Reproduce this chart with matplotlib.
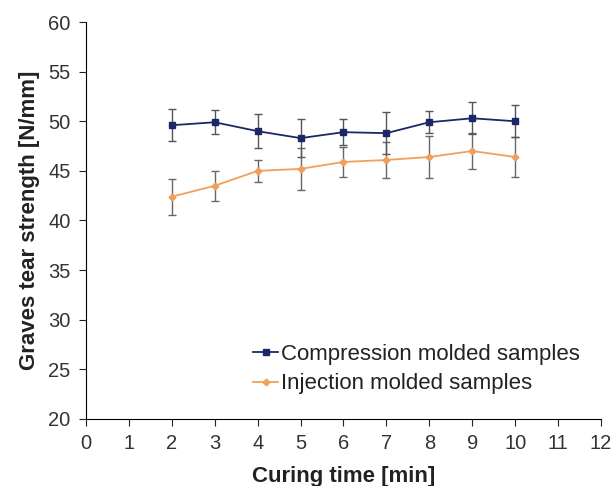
import matplotlib
matplotlib.use("Agg")
import matplotlib.pyplot as plt

plt.rcParams['font.family'] = ['Liberation Sans', 'DejaVu Sans']

curing_time = [2, 3, 4, 5, 6, 7, 8, 9, 10]

# compression molded samples
comp_mean = [49.6, 49.9, 49.0, 48.3, 48.9, 48.8, 49.9, 50.3, 50.0]
comp_err = [1.6, 1.2, 1.7, 1.9, 1.3, 2.1, 1.1, 1.6, 1.6]

# injection molded samples
inj_mean = [42.4, 43.5, 45.0, 45.2, 45.9, 46.1, 46.4, 47.0, 46.4]
inj_err = [1.8, 1.5, 1.1, 2.1, 1.5, 1.8, 2.1, 1.8, 2.0]

fig = plt.figure(figsize=(6.16, 4.86), dpi=100)
ax = fig.add_axes([0.1396, 0.1379, 0.836, 0.8168])

comp = ax.errorbar(curing_time, comp_mean, yerr=comp_err, color='#1c2766', marker='s',
                   markersize=4.5, linewidth=1.3, ecolor='#555555', elinewidth=1,
                   capsize=3, capthick=1, zorder=3)
inj = ax.errorbar(curing_time, inj_mean, yerr=inj_err, color='#f0a05c', marker='D',
                  markersize=3.5, linewidth=1.3, ecolor='#666666', elinewidth=1,
                  capsize=3, capthick=1, zorder=2)

ax.set_xlim(0, 12)
ax.set_ylim(20, 60)
ax.set_xticks(range(0, 13))
ax.set_yticks(range(20, 61, 5))
ax.spines['top'].set_visible(False)
ax.spines['right'].set_visible(False)
ax.tick_params(labelsize=14.5, length=5, colors='#222222', pad=6)
for lab in ax.get_xticklabels() + ax.get_yticklabels():
    lab.set_color('#333333')

ax.set_xlabel('Curing time [min]', fontsize=16, fontweight='bold', labelpad=9, color='#222222')
ax.set_ylabel('Graves tear strength [N/mm]', fontsize=16, fontweight='bold', labelpad=6,
              color='#222222')

ax.legend([comp.lines[0], inj.lines[0]],
          ['Compression molded samples', 'Injection molded samples'],
          loc='upper left', bbox_to_anchor=(0.324, 0.19), frameon=False, fontsize=16,
          borderpad=0, handlelength=1.15, handletextpad=0.1, labelspacing=0.4,
          borderaxespad=0, labelcolor='#222222')

fig.savefig('out.png', dpi=100)
